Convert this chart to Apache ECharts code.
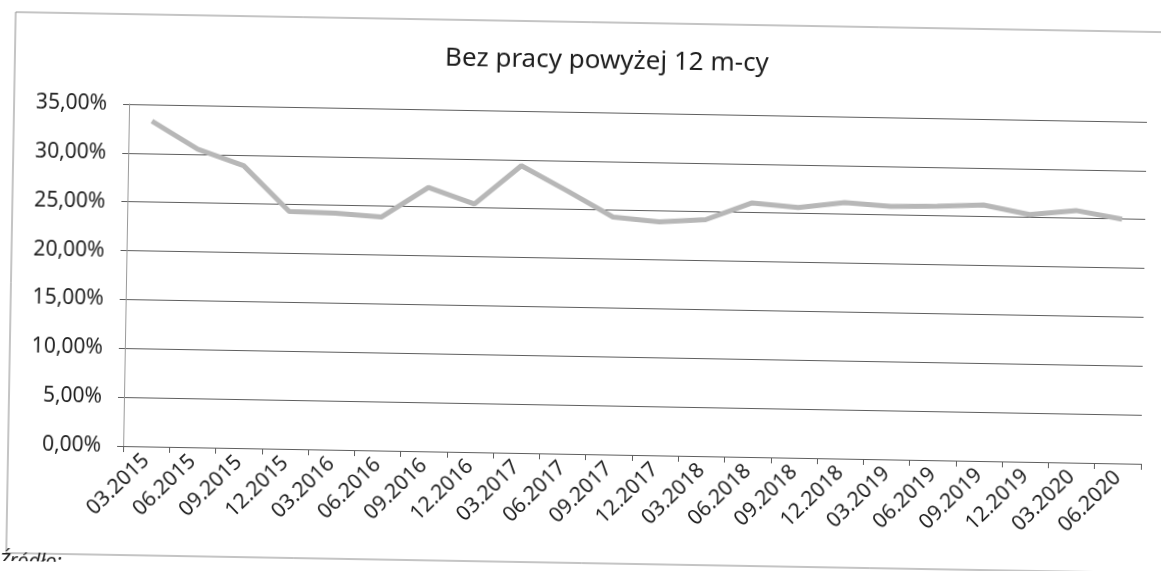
<!DOCTYPE html>
<html>
<head>
<meta charset="utf-8">
<script src="https://cdn.jsdelivr.net/npm/echarts@6/dist/echarts.min.js"></script>
<style>
html, body { margin: 0; padding: 0; background: #fff; overflow: hidden; }
/* the source is a slightly tilted scan */
#chart { width: 1161px; height: 571px; transform: rotate(1deg); transform-origin: 50% 50%; }
</style>
</head>
<body>
<div id="chart"></div>
<script>
var categories = ['03.2015','06.2015','09.2015','12.2015','03.2016','06.2016','09.2016','12.2016',
	'03.2017','06.2017','09.2017','12.2017','03.2018','06.2018','09.2018','12.2018',
	'03.2019','06.2019','09.2019','12.2019','03.2020','06.2020'];
// % of unemployed without work for more than 12 months
var values = [33.3, 30.5, 28.9, 24.3, 24.2, 23.9, 27.0, 25.4,
	29.4, 26.9, 24.3, 23.9, 24.2, 26.0, 25.6, 26.2,
	25.9, 26.0, 26.2, 25.3, 25.8, 25.0];
var yTicks = [0, 5, 10, 15, 20, 25, 30, 35];

var font = 'Noto Sans';
var chart = echarts.init(document.getElementById('chart'));
var option = {
	animation: false,
	backgroundColor: '#fff',
	title: {
		text: 'Bez pracy powyżej 12 m-cy',
		left: 598,
		top: 43,
		textAlign: 'center',
		textStyle: {
			fontFamily: font,
			fontSize: 26,
			fontWeight: 'normal',
			color: '#1e1e1e'
		}
	},
	grid: {
		left: 126,
		right: 17,
		top: 112,
		bottom: 117
	},
	graphic: [{
		type: 'rect',
		shape: { x: 11, y: 22, width: 1200, height: 541 },
		style: { fill: 'none', stroke: '#8a8a8a', lineWidth: 1 },
		silent: true
	}, {
		type: 'text',
		left: 4,
		top: 561,
		style: {
			text: 'Źródło:',
			font: 'italic 20px "Noto Sans"',
			fill: '#222'
		}
	}],
	xAxis: {
		type: 'category',
		data: categories,
		boundaryGap: true,
		axisLine: { lineStyle: { color: '#5e5e5e', width: 1 } },
		axisTick: { show: true, length: 6, lineStyle: { color: '#5e5e5e' } },
		axisLabel: {
			interval: 0,
			rotate: 45,
			margin: 11,
			fontFamily: font,
			fontSize: 21,
			color: '#1e1e1e'
		}
	},
	yAxis: {
		type: 'value',
		min: yTicks[0],
		max: yTicks[yTicks.length - 1],
		interval: 5,
		axisLine: { show: true, lineStyle: { color: '#9a9a9a' } },
		axisTick: { show: true, length: 6, lineStyle: { color: '#5e5e5e' } },
		splitLine: { lineStyle: { color: '#5e5e5e', width: 1 } },
		axisLabel: {
			margin: 22,
			fontFamily: font,
			fontSize: 21,
			color: '#1e1e1e',
			formatter: function (v) {
				return v.toFixed(2).replace('.', ',') + '%';
			}
		}
	},
	series: [{
		type: 'line',
		data: values,
		showSymbol: false,
		symbol: 'none',
		lineStyle: { color: '#b7b7b7', width: 5 }
	}]
};
chart.setOption(option);
</script>
</body>
</html>
